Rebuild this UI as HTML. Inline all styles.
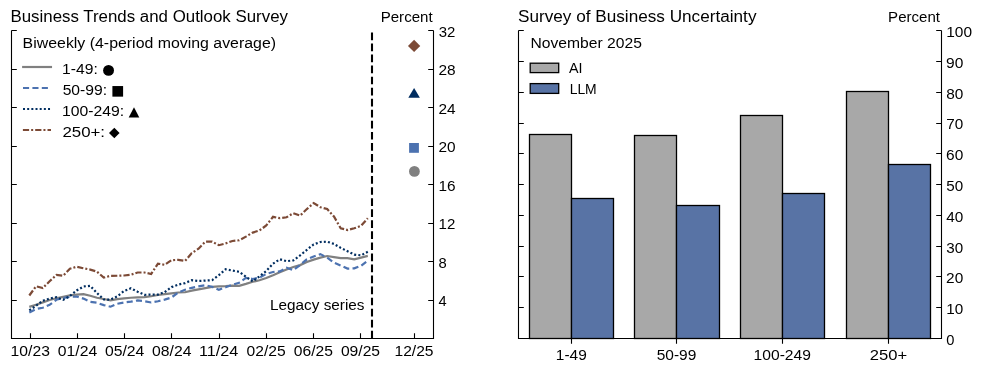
<!DOCTYPE html>
<html><head><meta charset="utf-8"><style>
html,body{margin:0;padding:0;background:#fff;width:981px;height:372px;overflow:hidden;}
svg{display:block;font-family:"Liberation Sans",sans-serif;will-change:transform;}
</style></head><body>
<svg width="981" height="372" viewBox="0 0 981 372">
<rect width="981" height="372" fill="#fff"/>
<path d="M11.5,30.5 V338.5 H433.5 V30.5" fill="none" stroke="#000" stroke-width="1.1" stroke-linecap="butt" stroke-linejoin="miter"/>
<path d="M11.5,300.50h5.3M433.5,300.50h-5.3M11.5,261.50h5.3M433.5,261.50h-5.3M11.5,223.50h5.3M433.5,223.50h-5.3M11.5,184.50h5.3M433.5,184.50h-5.3M11.5,146.50h5.3M433.5,146.50h-5.3M11.5,107.50h5.3M433.5,107.50h-5.3M11.5,69.50h5.3M433.5,69.50h-5.3M11.5,30.50h5.3M433.5,30.50h-5.3M30.50,338.5v-5.3M77.50,338.5v-5.3M124.50,338.5v-5.3M171.50,338.5v-5.3M219.50,338.5v-5.3M266.50,338.5v-5.3M313.50,338.5v-5.3M360.50,338.5v-5.3M414.50,338.5v-5.3" fill="none" stroke="#000" stroke-width="1.1"/>
<path d="M372,338.5 V30.5" stroke="#000" stroke-width="2.08" stroke-dasharray="7.7 3.35" fill="none"/>
<path d="M29.30,306.90 L36.07,304.70 L42.84,302.40 L49.61,300.00 L56.38,298.20 L63.15,296.80 L69.92,295.25 L76.69,294.70 L83.46,294.20 L90.23,295.70 L97.00,297.75 L103.77,299.00 L110.54,300.40 L117.31,299.20 L124.08,298.30 L130.85,297.75 L137.62,297.30 L144.39,297.10 L151.16,296.25 L157.93,295.00 L164.70,294.20 L171.47,293.30 L178.24,292.50 L185.01,292.25 L191.78,290.60 L198.55,289.30 L205.32,288.10 L212.09,286.80 L218.86,286.40 L225.63,286.20 L232.40,285.60 L239.17,285.80 L245.94,283.90 L252.71,281.80 L259.48,280.20 L266.25,278.00 L273.02,275.30 L279.79,272.30 L286.56,269.50 L293.33,267.00 L300.10,265.10 L306.87,262.00 L313.64,259.60 L320.41,257.60 L327.18,256.00 L333.95,257.10 L340.72,258.10 L347.49,258.10 L354.26,259.40 L361.03,257.60 L367.80,255.90" fill="none" stroke="#808080" stroke-width="2.2"/>
<path d="M29.30,312.50 L36.07,309.00 L42.84,307.75 L49.61,304.80 L56.38,299.80 L63.15,298.00 L69.92,296.90 L76.69,296.50 L83.46,298.60 L90.23,301.90 L97.00,302.75 L103.77,305.10 L110.54,306.70 L117.31,303.75 L124.08,302.50 L130.85,301.70 L137.62,300.40 L144.39,301.25 L151.16,302.50 L157.93,301.25 L164.70,299.60 L171.47,297.50 L178.24,292.50 L185.01,289.75 L191.78,287.80 L198.55,286.40 L205.32,285.30 L212.09,286.80 L218.86,289.75 L225.63,287.25 L232.40,284.75 L239.17,282.70 L245.94,277.80 L252.71,279.00 L259.48,277.50 L266.25,274.00 L273.02,272.00 L279.79,271.40 L286.56,267.80 L293.33,270.20 L300.10,265.00 L306.87,259.30 L313.64,256.50 L320.41,254.10 L327.18,257.60 L333.95,262.60 L340.72,265.50 L347.49,268.60 L354.26,268.40 L361.03,265.80 L367.80,260.50" fill="none" stroke="#4c72b0" stroke-width="2.2" stroke-dasharray="6.1 3.3"/>
<path d="M29.30,310.30 L36.07,305.80 L42.84,300.70 L49.61,298.60 L56.38,297.20 L63.15,299.80 L69.92,296.00 L76.69,290.50 L83.46,286.50 L90.23,285.80 L97.00,293.00 L103.77,299.50 L110.54,299.60 L117.31,296.30 L124.08,291.00 L130.85,288.30 L137.62,291.70 L144.39,294.80 L151.16,294.60 L157.93,294.60 L164.70,292.10 L171.47,287.10 L178.24,284.60 L185.01,283.10 L191.78,280.20 L198.55,281.00 L205.32,280.60 L212.09,280.20 L218.86,275.20 L225.63,269.30 L232.40,270.60 L239.17,271.80 L245.94,276.80 L252.71,281.40 L259.48,276.40 L266.25,271.00 L273.02,263.70 L279.79,259.30 L286.56,261.20 L293.33,260.40 L300.10,255.40 L306.87,249.90 L313.64,244.40 L320.41,242.00 L327.18,241.70 L333.95,243.90 L340.72,247.90 L347.49,251.20 L354.26,254.60 L361.03,255.30 L367.80,251.80" fill="none" stroke="#002d60" stroke-width="2.2" stroke-dasharray="2.0 2.17"/>
<path d="M29.30,295.50 L36.07,286.25 L42.84,288.00 L49.61,281.25 L56.38,275.00 L63.15,275.80 L69.92,268.75 L76.69,266.70 L83.46,268.30 L90.23,269.60 L97.00,271.70 L103.77,277.60 L110.54,275.80 L117.31,275.70 L124.08,275.50 L130.85,274.80 L137.62,272.50 L144.39,272.50 L151.16,274.00 L157.93,263.60 L164.70,264.80 L171.47,260.25 L178.24,259.80 L185.01,261.00 L191.78,253.10 L198.55,248.70 L205.32,241.70 L212.09,241.70 L218.86,245.20 L225.63,243.40 L232.40,241.00 L239.17,240.30 L245.94,236.60 L252.71,232.60 L259.48,230.50 L266.25,225.50 L273.02,216.80 L279.79,218.20 L286.56,217.30 L293.33,213.20 L300.10,215.60 L306.87,209.05 L313.64,203.10 L320.41,207.20 L327.18,209.05 L333.95,216.50 L340.72,228.30 L347.49,230.00 L354.26,228.30 L361.03,225.90 L367.80,218.20" fill="none" stroke="#7c4a36" stroke-width="2.2" stroke-dasharray="6.2 2.05 2.0 2.05"/>
<path d="M414.1,39.8 L420.25,45.95 L414.1,52.1 L407.95,45.95Z" fill="#7c4a36"/>
<path d="M414.1,88.1 L419.9,97.8 L408.3,97.8Z" fill="#002d60"/>
<rect x="409.1" y="143.0" width="9.8" height="9.8" fill="#4c72b0"/>
<circle cx="414.4" cy="171.4" r="5.4" fill="#808080"/>
<path d="M22.1,67.0 H52.05" stroke="#808080" stroke-width="2.2"/>
<path d="M23.0,88.0 H50.5" stroke="#4c72b0" stroke-width="2.2" stroke-dasharray="6.1 3.3"/>
<path d="M23.0,109.0 H52.05" stroke="#002d60" stroke-width="2.2" stroke-dasharray="2.0 2.17"/>
<path d="M22.9,130.0 H51.0" stroke="#7c4a36" stroke-width="2.2" stroke-dasharray="6.2 2.05 2.0 2.05"/>
<rect x="529.5" y="134.5" width="42.0" height="204.0" fill="#a8a8a8" stroke="#000" stroke-width="1.3"/>
<rect x="571.5" y="198.5" width="42.0" height="140.0" fill="#5873a5" stroke="#000" stroke-width="1.3"/>
<rect x="634.5" y="135.5" width="42.0" height="203.0" fill="#a8a8a8" stroke="#000" stroke-width="1.3"/>
<rect x="676.5" y="205.5" width="43.0" height="133.0" fill="#5873a5" stroke="#000" stroke-width="1.3"/>
<rect x="740.5" y="115.5" width="42.0" height="223.0" fill="#a8a8a8" stroke="#000" stroke-width="1.3"/>
<rect x="782.5" y="193.5" width="42.0" height="145.0" fill="#5873a5" stroke="#000" stroke-width="1.3"/>
<rect x="846.5" y="91.5" width="42.0" height="247.0" fill="#a8a8a8" stroke="#000" stroke-width="1.3"/>
<rect x="888.5" y="164.5" width="42.0" height="174.0" fill="#5873a5" stroke="#000" stroke-width="1.3"/>
<path d="M518.5,30.5 V338.5 H941.5 V30.5" fill="none" stroke="#000" stroke-width="1.1"/>
<path d="M518.5,307.50h5.3M941.5,307.50h-5.3M518.5,276.50h5.3M941.5,276.50h-5.3M518.5,246.50h5.3M941.5,246.50h-5.3M518.5,215.50h5.3M941.5,215.50h-5.3M518.5,184.50h5.3M941.5,184.50h-5.3M518.5,153.50h5.3M941.5,153.50h-5.3M518.5,123.50h5.3M941.5,123.50h-5.3M518.5,92.50h5.3M941.5,92.50h-5.3M518.5,61.50h5.3M941.5,61.50h-5.3M518.5,30.50h5.3M941.5,30.50h-5.3M571.50,338.5v5.3M676.50,338.5v5.3M782.50,338.5v5.3M888.50,338.5v5.3" fill="none" stroke="#000" stroke-width="1.1"/>
<rect x="530.2" y="63.2" width="28.5" height="9.4" fill="#a8a8a8" stroke="#000" stroke-width="1.3"/>
<rect x="530.2" y="83.6" width="28.5" height="9.8" fill="#5873a5" stroke="#000" stroke-width="1.3"/>
<circle cx="108.55" cy="70.4" r="5.45" fill="#000"/>
<rect x="112.4" y="86.05" width="10.7" height="10.6" fill="#000"/>
<path d="M134.0,107.2 L139.3,117.6 L128.7,117.6Z" fill="#000"/>
<path d="M114.3,127.7 L119.6,133.0 L114.3,138.3 L109.0,133.0Z" fill="#000"/>
<g font-family="Liberation Sans, sans-serif">
<text x="10.51" y="22.00" font-size="16.042" textLength="277.44" lengthAdjust="spacingAndGlyphs" fill="#000">Business Trends and Outlook Survey</text>
<text x="380.70" y="21.80" font-size="14.583" textLength="51.93" lengthAdjust="spacingAndGlyphs" fill="#000">Percent</text>
<text x="22.64" y="47.90" font-size="14.583" textLength="253.41" lengthAdjust="spacingAndGlyphs" fill="#000">Biweekly (4-period moving average)</text>
<text x="62.13" y="73.80" font-size="14.583" textLength="35.62" lengthAdjust="spacingAndGlyphs" fill="#000">1-49:</text>
<text x="62.67" y="94.90" font-size="14.583" textLength="44.37" lengthAdjust="spacingAndGlyphs" fill="#000">50-99:</text>
<text x="62.12" y="115.80" font-size="14.583" textLength="62.15" lengthAdjust="spacingAndGlyphs" fill="#000">100-249:</text>
<text x="62.46" y="136.80" font-size="14.583" textLength="42.57" lengthAdjust="spacingAndGlyphs" fill="#000">250+:</text>
<text x="269.99" y="309.60" font-size="14.583" textLength="94.54" lengthAdjust="spacingAndGlyphs" fill="#000">Legacy series</text>
<text x="10.63" y="356.00" font-size="14.583" textLength="39.24" lengthAdjust="spacingAndGlyphs" fill="#000">10/23</text>
<text x="57.84" y="356.00" font-size="14.583" textLength="39.40" lengthAdjust="spacingAndGlyphs" fill="#000">01/24</text>
<text x="104.98" y="356.00" font-size="14.583" textLength="39.40" lengthAdjust="spacingAndGlyphs" fill="#000">05/24</text>
<text x="152.12" y="356.00" font-size="14.583" textLength="39.40" lengthAdjust="spacingAndGlyphs" fill="#000">08/24</text>
<text x="198.99" y="356.00" font-size="14.583" textLength="39.38" lengthAdjust="spacingAndGlyphs" fill="#000">11/24</text>
<text x="246.62" y="356.00" font-size="14.583" textLength="39.17" lengthAdjust="spacingAndGlyphs" fill="#000">02/25</text>
<text x="293.76" y="356.00" font-size="14.583" textLength="39.17" lengthAdjust="spacingAndGlyphs" fill="#000">06/25</text>
<text x="340.90" y="356.00" font-size="14.583" textLength="39.17" lengthAdjust="spacingAndGlyphs" fill="#000">09/25</text>
<text x="394.48" y="356.00" font-size="14.583" textLength="39.09" lengthAdjust="spacingAndGlyphs" fill="#000">12/25</text>
<text x="438.53" y="306.00" font-size="14.583" textLength="8.15" lengthAdjust="spacingAndGlyphs" fill="#000">4</text>
<text x="438.51" y="268.00" font-size="14.583" textLength="8.22" lengthAdjust="spacingAndGlyphs" fill="#000">8</text>
<text x="438.60" y="229.00" font-size="14.583" textLength="16.70" lengthAdjust="spacingAndGlyphs" fill="#000">12</text>
<text x="438.57" y="191.00" font-size="14.583" textLength="17.12" lengthAdjust="spacingAndGlyphs" fill="#000">16</text>
<text x="438.44" y="152.00" font-size="14.583" textLength="17.15" lengthAdjust="spacingAndGlyphs" fill="#000">20</text>
<text x="438.44" y="114.00" font-size="14.583" textLength="17.13" lengthAdjust="spacingAndGlyphs" fill="#000">24</text>
<text x="438.43" y="75.00" font-size="14.583" textLength="17.20" lengthAdjust="spacingAndGlyphs" fill="#000">28</text>
<text x="438.68" y="37.00" font-size="14.583" textLength="16.62" lengthAdjust="spacingAndGlyphs" fill="#000">32</text>
<text x="518.03" y="22.00" font-size="16.042" textLength="238.47" lengthAdjust="spacingAndGlyphs" fill="#000">Survey of Business Uncertainty</text>
<text x="888.10" y="21.80" font-size="14.583" textLength="51.93" lengthAdjust="spacingAndGlyphs" fill="#000">Percent</text>
<text x="530.51" y="48.10" font-size="14.583" textLength="111.40" lengthAdjust="spacingAndGlyphs" fill="#000">November 2025</text>
<text x="569.06" y="72.60" font-size="14.583" textLength="13.51" lengthAdjust="spacingAndGlyphs" fill="#000">AI</text>
<text x="569.65" y="93.70" font-size="14.583" textLength="27.06" lengthAdjust="spacingAndGlyphs" fill="#000">LLM</text>
<text x="555.85" y="360.00" font-size="14.583" textLength="30.87" lengthAdjust="spacingAndGlyphs" fill="#000">1-49</text>
<text x="656.73" y="360.00" font-size="14.583" textLength="39.62" lengthAdjust="spacingAndGlyphs" fill="#000">50-99</text>
<text x="753.57" y="360.00" font-size="14.583" textLength="57.40" lengthAdjust="spacingAndGlyphs" fill="#000">100-249</text>
<text x="869.82" y="360.00" font-size="14.583" textLength="37.35" lengthAdjust="spacingAndGlyphs" fill="#000">250+</text>
<text x="946.22" y="345.00" font-size="14.583" textLength="8.17" lengthAdjust="spacingAndGlyphs" fill="#000">0</text>
<text x="946.28" y="314.00" font-size="14.583" textLength="17.00" lengthAdjust="spacingAndGlyphs" fill="#000">10</text>
<text x="946.14" y="283.00" font-size="14.583" textLength="17.15" lengthAdjust="spacingAndGlyphs" fill="#000">20</text>
<text x="946.37" y="253.00" font-size="14.583" textLength="16.90" lengthAdjust="spacingAndGlyphs" fill="#000">30</text>
<text x="946.21" y="222.00" font-size="14.583" textLength="17.07" lengthAdjust="spacingAndGlyphs" fill="#000">40</text>
<text x="946.37" y="191.00" font-size="14.583" textLength="16.91" lengthAdjust="spacingAndGlyphs" fill="#000">50</text>
<text x="946.10" y="160.00" font-size="14.583" textLength="17.19" lengthAdjust="spacingAndGlyphs" fill="#000">60</text>
<text x="946.28" y="129.00" font-size="14.583" textLength="17.00" lengthAdjust="spacingAndGlyphs" fill="#000">70</text>
<text x="946.18" y="99.00" font-size="14.583" textLength="17.10" lengthAdjust="spacingAndGlyphs" fill="#000">80</text>
<text x="946.03" y="68.00" font-size="14.583" textLength="17.26" lengthAdjust="spacingAndGlyphs" fill="#000">90</text>
<text x="946.27" y="37.00" font-size="14.583" textLength="25.82" lengthAdjust="spacingAndGlyphs" fill="#000">100</text>
</g>
</svg>
</body></html>
